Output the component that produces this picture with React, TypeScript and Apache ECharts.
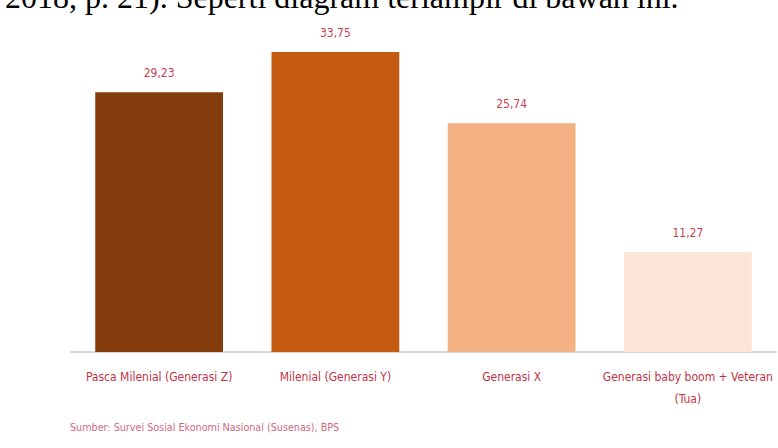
import React, { useEffect, useRef } from "react";
import * as echarts from "echarts";

const categories = [
  "Pasca Milenial (Generasi Z)",
  "Milenial (Generasi Y)",
  "Generasi X",
  "Generasi baby boom + Veteran\n(Tua)",
];
const values = [29.23, 33.75, 25.74, 11.27];
const barColors = ["#843C0C", "#C55A11", "#F4B183", "#FBE5D6"];
const headerText = "2018, p. 21). Seperti diagram terlampir di bawah ini.";
const sourceText = "Sumber: Survei Sosial Ekonomi Nasional (Susenas), BPS";

const condensed = "'DejaVu Sans Condensed', 'Liberation Sans Narrow', sans-serif";

export default function App() {
  const ref = useRef<HTMLDivElement>(null);
  useEffect(() => {
    if (!ref.current) return;
    const chart = echarts.init(ref.current, undefined, { renderer: "svg" });
    chart.setOption({
      animation: false,
      backgroundColor: "#ffffff",
      grid: { left: 71, width: 705, top: 41, height: 311, outerBoundsMode: "none", containLabel: false },
      xAxis: {
        type: "category",
        data: categories,
        axisLine: { show: true, lineStyle: { color: "#d9d9d9", width: 2 } },
        axisTick: { show: false },
        axisLabel: {
          interval: 0,
          margin: 14,
          color: "#bf3446",
          fontFamily: condensed,
          fontSize: 12,
          lineHeight: 22,
        },
      },
      yAxis: {
        type: "value",
        min: 0,
        max: 35,
        show: false,
        splitLine: { show: false },
      },
      series: [
        {
          type: "bar",
          barCategoryGap: "27.5%",
          data: values.map((v, i) => ({ value: v, itemStyle: { color: barColors[i] } })),
          label: {
            show: true,
            position: "top",
            distance: 13,
            color: "#c43f52",
            fontFamily: condensed,
            fontSize: 12,
            formatter: (p: any) => String(p.value).replace(".", ","),
          },
        },
      ],
      graphic: [
        {
          type: "text",
          x: 5,
          y: -3,
          style: {
            text: headerText,
            font: "32px 'Liberation Serif', 'Times New Roman', serif",
            fill: "#000000",
            verticalAlign: "middle",
          },
        },
        {
          type: "text",
          x: 70,
          y: 427,
          style: {
            text: sourceText,
            font: "10.7px " + condensed,
            fill: "#d06a80",
            verticalAlign: "middle",
          },
        },
      ],
    });
    return () => chart.dispose();
  }, []);
  return (
    <div
      ref={ref}
      style={{ position: "absolute", left: 0, top: 0, width: 778, height: 448 }}
    />
  );
}
